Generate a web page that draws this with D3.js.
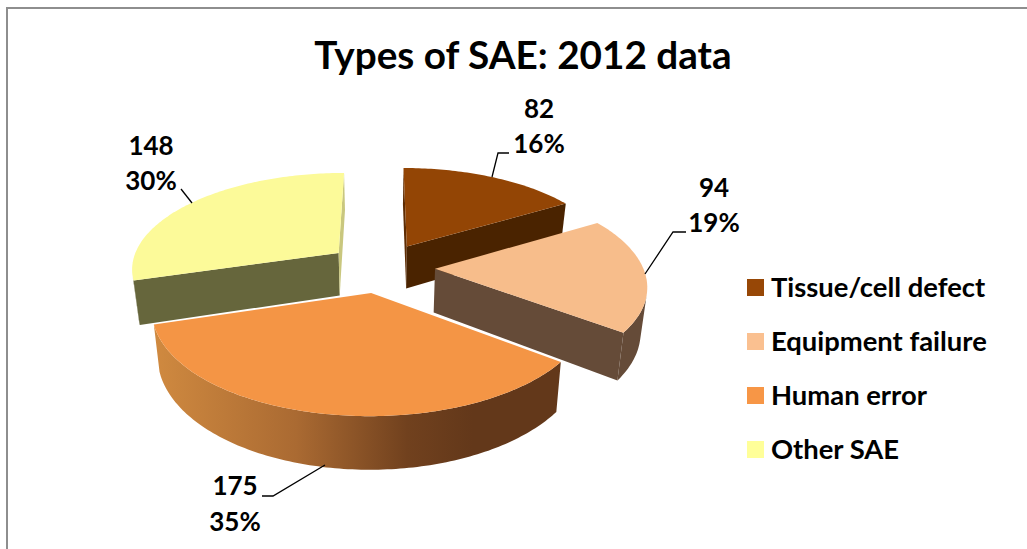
<!DOCTYPE html>
<html>
<head>
<meta charset="utf-8">
<script src="https://cdn.jsdelivr.net/npm/d3@7"></script>
<style>
html, body { margin: 0; padding: 0; background: #fff; overflow: hidden; }
text { font-family: Lato, sans-serif; font-weight: 700; fill: #000; }
</style>
</head>
<body>
<script>
const title = "Types of SAE: 2012 data";
const categories = ["Tissue/cell defect", "Equipment failure", "Human error", "Other SAE"];
const values = [82, 94, 175, 148];
const legendColors = ["#974706", "#fac090", "#f79646", "#ffff99"];
const topColors = ["#934505", "#f7bd8b", "#f49545", "#fcfa99"];
const startWallColors = ["#5e2c03", "#654b38", "#63381a", "#66663c"];
const endWallColors = ["#4a2300", "#654b38", "#63381a", "#c9c77e"];
const rimColors = ["#4a2300", "#654b38", "url(#humanRim)", "#66663c"];

const width = 1027;
const height = 549;

// pie geometry, fitted by eye to the picture
const cx = 381, cy = 267.5;
const radius = 208;
const explode = 54;
const squash = 0.462;   // vertical flattening of the ground plane
const persp = 0.15;     // far side shrinks, near side grows
const thick = 43.5;
const taper = 0.975;    // lower rim is drawn a bit narrower

// drawing order, back slices first
const paintOrder = [0, 3, 1, 2];

const labelPos = [
    {x: 539, y: 118, y2: 153, leader: [[509, 153], [498, 153], [492, 177]]},
    {x: 714, y: 197, y2: 232, leader: [[686, 232], [673, 232], [645, 274]]},
    {x: 235, y: 495, y2: 531, leader: [[262, 496], [273, 496], [325, 465]]},
    {x: 151, y: 155, y2: 190, leader: [[181, 189], [192, 203]]}
];

const svg = d3.select("body")
    .append("svg")
    .attr("width", width)
    .attr("height", height);

const color = d3.scaleOrdinal().domain(categories).range(legendColors);
const total = d3.sum(values);
const pct = d3.format(".0%");

const grad = svg.append("defs")
    .append("linearGradient")
    .attr("id", "humanRim")
    .attr("gradientUnits", "userSpaceOnUse")
    .attr("x1", 153).attr("x2", 563)
    .attr("y1", 0).attr("y2", 0);
[[0, "#d08a40"], [0.35, "#aa6a32"], [0.62, "#71411e"], [0.78, "#63381a"], [1, "#63381a"]].forEach(function (s) {
    grad.append("stop").attr("offset", s[0]).attr("stop-color", s[1]);
});

// chart frame, only top and left show
svg.append("path")
    .attr("d", "M7,549V8H1027")
    .attr("fill", "none")
    .attr("stroke", "#8e8e8e")
    .attr("stroke-width", 2);

svg.append("text")
    .attr("x", 523)
    .attr("y", 69)
    .attr("text-anchor", "middle")
    .attr("font-size", 38.7)
    .text(title);

function project(X, Z, low) {
    const s = 1 / (1 + persp * Z / radius);
    return [
        cx + X * s * (low ? taper : 1),
        cy - squash * Z * s + (low ? thick * s : 0)
    ];
}

const pie = d3.pie().sort(null).value(function (d) { return d; });
const arcs = pie(values);
const line = d3.line();

function drawFace(g, pts, fill) {
    g.append("path")
        .attr("d", line(pts) + "Z")
        .attr("fill", fill);
}

paintOrder.forEach(function (i) {
    const a = arcs[i];
    const mid = (a.startAngle + a.endAngle) / 2;
    const ox = explode * Math.sin(mid);
    const oz = explode * Math.cos(mid);
    const rimAt = function (t, low) {
        return project(ox + radius * Math.sin(t), oz + radius * Math.cos(t), low);
    };
    const apex = project(ox, oz, false);
    const apexLow = project(ox, oz, true);
    const steps = d3.range(a.startAngle, a.endAngle, Math.PI / 180).concat([a.endAngle]);
    const g = svg.append("g");

    // outer wall, only the part turned toward the viewer
    const front = steps.filter(function (t, k) {
        const n = k < steps.length - 1 ? steps[k + 1] : null;
        const p = k > 0 ? steps[k - 1] : null;
        const t0 = n !== null ? t : p;
        const t1 = n !== null ? n : t;
        return d3.polygonArea([rimAt(t0), rimAt(t1), rimAt(t1, true), rimAt(t0, true)]) > 0;
    });
    if (front.length > 1) {
        drawFace(g, front.map(function (t) { return rimAt(t); })
            .concat(front.slice().reverse().map(function (t) { return rimAt(t, true); })), rimColors[i]);
    }

    const startQuad = [apex, rimAt(a.startAngle), rimAt(a.startAngle, true), apexLow];
    if (d3.polygonArea(startQuad) > 0) drawFace(g, startQuad, startWallColors[i]);

    const endQuad = [rimAt(a.endAngle), apex, apexLow, rimAt(a.endAngle, true)];
    if (d3.polygonArea(endQuad) > 0) drawFace(g, endQuad, endWallColors[i]);

    drawFace(g, [apex].concat(steps.map(function (t) { return rimAt(t); })), topColors[i]);
});

// data labels and leader lines
labelPos.forEach(function (p, i) {
    svg.append("path")
        .attr("d", line(p.leader))
        .attr("fill", "none")
        .attr("stroke", "#000")
        .attr("stroke-width", 1.3);
    svg.append("text")
        .attr("x", p.x).attr("y", p.y)
        .attr("text-anchor", "middle")
        .attr("font-size", 26)
        .text(values[i]);
    svg.append("text")
        .attr("x", p.x).attr("y", p.y2)
        .attr("text-anchor", "middle")
        .attr("font-size", 26)
        .text(pct(values[i] / total));
});

// legend
const legendY = d3.scalePoint().domain(categories).range([279, 441]);
const legend = svg.append("g")
    .selectAll("g")
    .data(categories)
    .join("g")
    .attr("transform", function (d) { return "translate(747," + legendY(d) + ")"; });
legend.append("rect")
    .attr("width", 17)
    .attr("height", 17)
    .attr("fill", function (d) { return color(d); });
legend.append("text")
    .attr("x", 24)
    .attr("y", 17.5)
    .attr("font-size", 27.4)
    .text(function (d) { return d; });
</script>
</body>
</html>
